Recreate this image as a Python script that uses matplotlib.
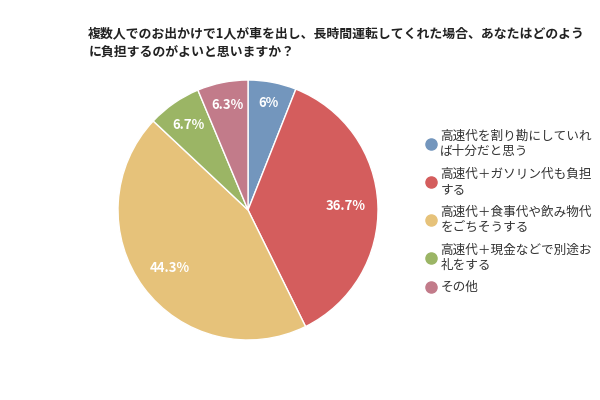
import matplotlib
matplotlib.use('Agg')
from matplotlib import pyplot as plt
from matplotlib.lines import Line2D
import numpy as np

plt.rcParams['font.family'] = ['Noto Sans CJK JP', 'DejaVu Sans']

title = '複数人でのお出かけで1人が車を出し、長時間運転してくれた場合、あなたはどのよう\nに負担するのがよいと思いますか？'
labels = ['高速代を割り勘にしていれ\nば十分だと思う',
          '高速代＋ガソリン代も負担\nする',
          '高速代＋食事代や飲み物代\nをごちそうする',
          '高速代＋現金などで別途お\n礼をする',
          'その他']
values = [6, 36.7, 44.3, 6.7, 6.3]
value_texts = ['6%', '36.7%', '44.3%', '6.7%', '6.3%']
colors = ['#7396bd', '#d45d5d', '#e6c27a', '#9bb565', '#c27b8a']

fig = plt.figure(figsize=(6, 4), dpi=100)
ax = fig.add_axes([0.1967, 0.15, 0.4333, 0.65])

wedges, texts = ax.pie(values, colors=colors, startangle=90, counterclock=False,
                       wedgeprops=dict(edgecolor='white', linewidth=1))
ax.set_xlim(-1, 1)
ax.set_ylim(-1, 1)
ax.set_aspect('equal')

# percentage labels placed along each wedge's middle angle
dists = [0.84, 0.75, 0.75, 0.8, 0.82]
for w, t, d in zip(wedges, value_texts, dists):
    ang = np.deg2rad((w.theta1 + w.theta2) / 2)
    ax.text(d * np.cos(ang), d * np.sin(ang), t, ha='center', va='center',
            color='white', fontsize=9.5, fontweight='bold')

fig.text(0.147, 0.935, title, fontsize=9.3, fontweight='bold', color='#222222',
         va='top', ha='left', linespacing=1.4)

handles = [Line2D([], [], marker='o', linestyle='none', markersize=8,
                  markerfacecolor=c, markeredgecolor=c) for c in colors]
fig.legend(handles, labels, loc='upper left', bbox_to_anchor=(0.697, 0.688),
           frameon=False, fontsize=9.1, labelcolor='#333333', handletextpad=0.15,
           handlelength=1.2, labelspacing=0.78, borderaxespad=0)

fig.savefig('out.png', dpi=100)
